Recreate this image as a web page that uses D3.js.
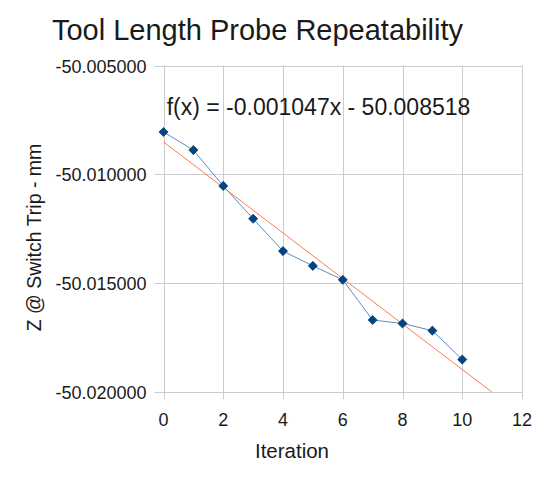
<!DOCTYPE html>
<html>
<head>
<meta charset="utf-8">
<script src="https://d3js.org/d3.v7.min.js"></script>
<style>
    body { margin: 0; background: white; }
    text { font-family: "Liberation Sans", Arial, sans-serif; fill: #1a1a1a; }
</style>
</head>
<body>
<svg id="chart" width="556" height="479"></svg>
<script>
    // data
    const iterations = [0, 1, 2, 3, 4, 5, 6, 7, 8, 9, 10];
    const zTrip = [-50.00806, -50.00889, -50.01054, -50.01205, -50.01354, -50.01422,
                   -50.01486, -50.01671, -50.01687, -50.01720, -50.01853];
    const xTicks = [0, 2, 4, 6, 8, 10, 12];
    const yTicks = [-50.005, -50.010, -50.015, -50.020];
    const trendSlope = -0.001047;
    const trendIntercept = -50.008518;
    const trendRange = [0, 11];

    const svg = d3.select("#chart");
    const plotL = 163.5, plotR = 522, plotT = 65.5, plotB = 391.5;

    const x = d3.scaleLinear().domain([0, 12]).range([plotL, plotR]);
    const y = d3.scaleLinear().domain([-50.020, -50.005]).range([plotB, plotT]);
    // plain hyphen instead of the unicode minus d3 uses
    const fmtY = d => d3.format(".6f")(d).replace("\u2212", "-");

    // grid
    svg.append("g")
        .selectAll("line")
        .data(xTicks)
        .join("line")
        .attr("x1", d => Math.round(x(d)) + 0.5)
        .attr("x2", d => Math.round(x(d)) + 0.5)
        .attr("y1", plotT)
        .attr("y2", plotB + 8)
        .attr("stroke", "#cccccc");

    svg.append("g")
        .selectAll("line")
        .data(yTicks)
        .join("line")
        .attr("x1", plotL - 9)
        .attr("x2", plotR)
        .attr("y1", d => Math.round(y(d)) + 0.5)
        .attr("y2", d => Math.round(y(d)) + 0.5)
        .attr("stroke", "#cccccc");

    // tick labels
    svg.append("g")
        .selectAll("text")
        .data(yTicks)
        .join("text")
        .attr("x", plotL - 17)
        .attr("y", d => y(d) + 7)
        .attr("text-anchor", "end")
        .style("font-size", "18px")
        .text(fmtY);

    svg.append("g")
        .selectAll("text")
        .data(xTicks)
        .join("text")
        .attr("x", d => x(d))
        .attr("y", plotB + 34)
        .attr("text-anchor", "middle")
        .style("font-size", "18px")
        .text(d => d);

    // trend line
    svg.append("line")
        .attr("x1", x(trendRange[0]))
        .attr("y1", y(trendSlope * trendRange[0] + trendIntercept))
        .attr("x2", x(trendRange[1]))
        .attr("y2", y(trendSlope * trendRange[1] + trendIntercept))
        .attr("stroke", "#ff7a52")
        .attr("stroke-width", 1);

    // series
    const pts = iterations.map((d, i) => [d, zTrip[i]]);
    svg.append("path")
        .datum(pts)
        .attr("fill", "none")
        .attr("stroke", "#5b8dc4")
        .attr("stroke-width", 1)
        .attr("d", d3.line().x(d => x(d[0])).y(d => y(d[1])));

    svg.append("g")
        .selectAll("path")
        .data(pts)
        .join("path")
        .attr("transform", d => `translate(${x(d[0])},${y(d[1])}) rotate(45)`)
        .attr("d", d3.symbol(d3.symbolSquare, 42))
        .attr("fill", "#004586")
        .attr("stroke", "#002a55")
        .attr("stroke-width", 0.6);

    // texts
    svg.append("text")
        .attr("x", 257.5)
        .attr("y", 39.5)
        .attr("text-anchor", "middle")
        .style("font-size", "29px")
        .text("Tool Length Probe Repeatability");

    svg.append("text")
        .attr("x", 318.5)
        .attr("y", 114.5)
        .attr("text-anchor", "middle")
        .style("font-size", "23px")
        .text(`f(x) = ${trendSlope.toFixed(6)}x - ${Math.abs(trendIntercept).toFixed(6)}`);

    svg.append("text")
        .attr("transform", "translate(41,237.5) rotate(-90)")
        .attr("text-anchor", "middle")
        .style("font-size", "19.5px")
        .text("Z @ Switch Trip - mm");

    svg.append("text")
        .attr("x", 292)
        .attr("y", 457.5)
        .attr("text-anchor", "middle")
        .style("font-size", "20.5px")
        .text("Iteration");
</script>
</body>
</html>
